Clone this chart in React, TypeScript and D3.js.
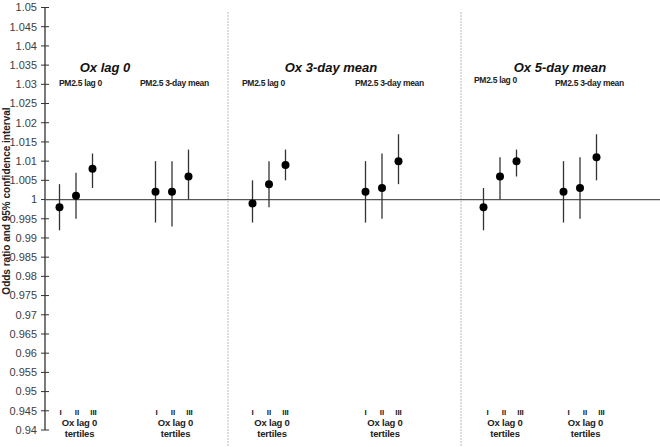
import React from "react";
import * as d3 from "d3";

const W = 660;
const H = 447;

// Data
const panelTitles = ["Ox lag 0", "Ox 3-day mean", "Ox 5-day mean"];
const exposureLabels = ["PM2.5 lag 0", "PM2.5 3-day mean"];
const tertiles = ["I", "II", "III"];
const yTicks = d3.range(0, 23).map((i) => +(0.94 + i * 0.005).toFixed(3));

// odds ratios, [panel][exposure][tertile]
const orValues = [
  [[0.998, 1.001, 1.008], [1.002, 1.002, 1.006]],
  [[0.999, 1.004, 1.009], [1.002, 1.003, 1.010]],
  [[0.998, 1.006, 1.010], [1.002, 1.003, 1.011]],
];
const lowerCI = [
  [[0.992, 0.995, 1.003], [0.994, 0.993, 1.000]],
  [[0.994, 0.998, 1.005], [0.994, 0.995, 1.004]],
  [[0.992, 1.000, 1.006], [0.994, 0.995, 1.005]],
];
const upperCI = [
  [[1.004, 1.007, 1.012], [1.010, 1.010, 1.013]],
  [[1.005, 1.010, 1.013], [1.010, 1.012, 1.017]],
  [[1.003, 1.011, 1.013], [1.010, 1.011, 1.017]],
];

// Layout
const axisX = 45;
const groupCenters = [76, 172, 269, 382, 500, 580];
const dividers = [228, 461];
const titleCenters = [105, 331, 560];
const pmLabelX = [59, 140, 242, 355, 474, 555];
const pmLabelY = [86, 86, 86, 86, 83, 86];
const tertLabelShift = [1, 1, 0, 0, 4, 5];

const y = d3.scaleLinear().domain([0.94, 1.05]).range([430, 7.5]);
const tx = d3.scalePoint<string>().domain(tertiles).range([-16.5, 16.5]);

const font = "'Liberation Sans', Arial, sans-serif";

export default function App() {
  const groups: JSX.Element[] = [];
  orValues.forEach((panel, p) => {
    panel.forEach((vals, e) => {
      const g = p * 2 + e;
      const cx = groupCenters[g];
      groups.push(
        <g key={`g${g}`}>
          {vals.map((v, t) => {
            const x = cx + (tx(tertiles[t]) as number);
            return (
              <g key={t}>
                <line x1={x} x2={x} y1={y(lowerCI[p][e][t])} y2={y(upperCI[p][e][t])} stroke="#333" strokeWidth={1.3} />
                <circle cx={x} cy={y(v)} r={4} fill="#000" />
              </g>
            );
          })}
          <text x={pmLabelX[g]} y={pmLabelY[g]} fontSize={8.5} fontWeight="bold" fill="#222" letterSpacing={-0.3}>
            {exposureLabels[e]}
          </text>
          {tertiles.map((t) => (
            <text key={t} x={cx + (tx(t) as number) + tertLabelShift[g]} y={415} fontSize={8} fontWeight="bold" fill="#222" textAnchor="middle">
              {t}
            </text>
          ))}
          <text x={cx + 3 + tertLabelShift[g] / 2} y={426} fontSize={9.5} fontWeight="bold" fill="#222" textAnchor="middle" letterSpacing={-0.2}>
            Ox lag 0
          </text>
          <text x={cx + 3 + tertLabelShift[g] / 2} y={437} fontSize={9.5} fontWeight="bold" fill="#222" textAnchor="middle" letterSpacing={-0.2}>
            tertiles
          </text>
        </g>
      );
    });
  });

  return (
    <svg width={W} height={H} style={{ position: "absolute", left: 0, top: 0, fontFamily: font }}>
      <rect width={W} height={H} fill="#fff" />
      {dividers.map((d) => (
        <line key={d} x1={d} x2={d} y1={12} y2={H} stroke="#bbb" strokeWidth={1} strokeDasharray="2,1" />
      ))}
      <line x1={axisX} x2={axisX} y1={y(1.05)} y2={y(0.94)} stroke="#333" strokeWidth={1.3} />
      {yTicks.map((t) => (
        <g key={t}>
          <line x1={axisX - 4} x2={axisX + 4} y1={y(t)} y2={y(t)} stroke="#333" strokeWidth={1} />
          <text x={37} y={y(t)} dy="0.35em" fontSize={11} fill="#404040" textAnchor="end">
            {d3.format("")(t)}
          </text>
        </g>
      ))}
      <line x1={axisX} x2={W} y1={y(1)} y2={y(1)} stroke="#555" strokeWidth={1.3} />
      {panelTitles.map((t, i) => (
        <text key={t} x={titleCenters[i]} y={72} fontSize={13} fontWeight="bold" fontStyle="italic" fill="#111" textAnchor="middle">
          {t}
        </text>
      ))}
      {groups}
      <text transform="translate(10,201) rotate(-90)" fontSize={10} fontWeight="bold" fill="#222" textAnchor="middle">
        Odds ratio and 95% confidence interval
      </text>
    </svg>
  );
}
